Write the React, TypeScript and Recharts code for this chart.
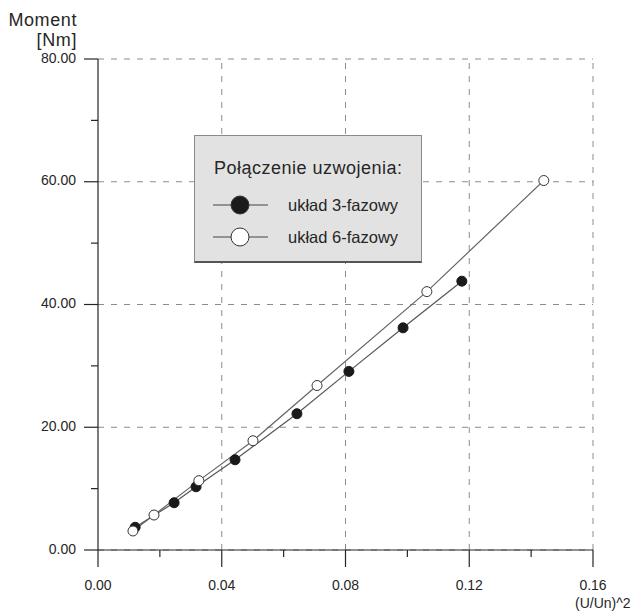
import { LineChart, Line, XAxis, YAxis, ReferenceLine, Legend } from "recharts";

const uSq3 = [0.012, 0.0246, 0.0317, 0.0443, 0.0643, 0.0811, 0.0986, 0.1176];
const moment3 = [3.7, 7.7, 10.3, 14.7, 22.2, 29.1, 36.2, 43.8];
const uSq6 = [0.0113, 0.0181, 0.0326, 0.0501, 0.0708, 0.1063, 0.1441];
const moment6 = [3.1, 5.7, 11.3, 17.8, 26.8, 42.1, 60.2];

const xTicks = [0, 0.02, 0.04, 0.06, 0.08, 0.1, 0.12, 0.14, 0.16];
const yTicks = [0, 10, 20, 30, 40, 50, 60, 70, 80];
const xGrid = [0.04, 0.08, 0.12, 0.16];
const yGrid = [20, 40, 60, 80];

const data3 = uSq3.map((x, i) => ({ x, y: moment3[i] }));
const data6 = uSq6.map((x, i) => ({ x, y: moment6[i] }));

const FONT = '"Liberation Sans", Arial, sans-serif';
const INK = "#262626";

function XTick({ x, y, payload }: any) {
  const v = payload.value as number;
  const major = Math.round(v * 100) % 4 === 0;
  return (
    <g>
      <line x1={x} x2={x} y1={y} y2={y + (major ? 17 : 7)} stroke={INK} strokeWidth={1.2} />
      {major && (
        <text x={x} y={y + 36} textAnchor="middle" dominantBaseline="middle" fontSize={14} fill={INK} fontFamily={FONT}>
          {v.toFixed(2)}
        </text>
      )}
    </g>
  );
}

function YTick({ x, y, payload }: any) {
  const v = payload.value as number;
  const major = v % 20 === 0;
  return (
    <g>
      <line x1={x - (major ? 14 : 7)} x2={x} y1={y} y2={y} stroke={INK} strokeWidth={1.2} />
      {major && (
        <text x={x - 22} y={y} textAnchor="end" dominantBaseline="middle" fontSize={14} fill={INK} fontFamily={FONT}>
          {v.toFixed(2)}
        </text>
      )}
    </g>
  );
}

function LegendBox({ payload }: any) {
  return (
    <div
      style={{
        position: "relative",
        width: 228,
        height: 128,
        boxSizing: "border-box",
        background: "#e2e2e2",
        border: "1px solid #8a8a8a",
        borderBottom: "2px solid #555",
        fontFamily: FONT,
        color: INK,
      }}
    >
      <div style={{ position: "absolute", left: 19, top: 21, fontSize: 18, letterSpacing: 0.5, lineHeight: "22px", whiteSpace: "nowrap" }}>
        Połączenie uzwojenia:
      </div>
      {(payload || []).map((p: any, i: number) => (
        <div key={p.value} style={{ position: "absolute", left: 18, top: 57 + i * 32, height: 24, display: "flex", alignItems: "center" }}>
          <svg width={56} height={24}>
            <line x1={0} x2={55} y1={12} y2={12} stroke="#444" strokeWidth={1} />
            <circle cx={27} cy={12} r={9} fill={i === 0 ? "#1a1a1a" : "#ffffff"} stroke="#333" strokeWidth={1} />
          </svg>
          <span style={{ fontSize: 16.5, marginLeft: 19, whiteSpace: "nowrap" }}>{p.value}</span>
        </div>
      ))}
    </div>
  );
}

export default function App() {
  return (
    <div style={{ position: "absolute", left: 0, top: 0, width: 635, height: 613, background: "#fff" }}>
      <LineChart width={635} height={613} margin={{ top: 59, right: 42, bottom: 23, left: 0 }}>
        {xGrid.map((v) => (
          <ReferenceLine key={"x" + v} x={v} stroke="#8c8c8c" strokeDasharray="6 7" />
        ))}
        {yGrid.map((v) => (
          <ReferenceLine key={"y" + v} y={v} stroke="#8c8c8c" strokeDasharray="6 7" />
        ))}
        <XAxis
          type="number"
          dataKey="x"
          domain={[0, 0.16]}
          ticks={xTicks}
          interval={0}
          tickSize={0}
          tickMargin={0}
          tickLine={false}
          tick={<XTick />}
          axisLine={{ stroke: INK, strokeWidth: 1.2 }}
          height={40}
          allowDataOverflow
        />
        <YAxis
          type="number"
          dataKey="y"
          domain={[0, 80]}
          ticks={yTicks}
          interval={0}
          tickSize={0}
          tickMargin={0}
          tickLine={false}
          tick={<YTick />}
          axisLine={{ stroke: INK, strokeWidth: 1.2 }}
          width={98}
        />
        <ReferenceLine y={0} stroke="#8c8c8c" strokeDasharray="6 7" />
        <Legend
          layout="horizontal"
          verticalAlign="middle"
          align="center"
          content={<LegendBox />}
          wrapperStyle={{ position: "absolute", left: 194, top: 135, width: 228, height: 128 }}
        />
        <Line
          data={data3}
          dataKey="y"
          name="układ 3-fazowy"
          type="linear"
          stroke="#555"
          strokeWidth={1.2}
          dot={{ r: 5, fill: "#1a1a1a", stroke: "#1a1a1a", strokeWidth: 1 }}
          activeDot={false}
          isAnimationActive={false}
        />
        <Line
          data={data6}
          dataKey="y"
          name="układ 6-fazowy"
          type="linear"
          stroke="#666"
          strokeWidth={1.2}
          dot={{ r: 5, fill: "#ffffff", stroke: "#333", strokeWidth: 1 }}
          activeDot={false}
          isAnimationActive={false}
        />
      </LineChart>
      <div style={{ position: "absolute", right: 635 - 77, top: 10, fontFamily: FONT, fontSize: 18, letterSpacing: 0.6, color: INK, lineHeight: "20px", textAlign: "right", whiteSpace: "nowrap" }}>
        <div>Moment</div>
        <div>[Nm]</div>
      </div>
      <div style={{ position: "absolute", left: 575, top: 595, fontFamily: FONT, fontSize: 14, color: INK, lineHeight: "16px", whiteSpace: "nowrap" }}>
        (U/Un)^2
      </div>
    </div>
  );
}
